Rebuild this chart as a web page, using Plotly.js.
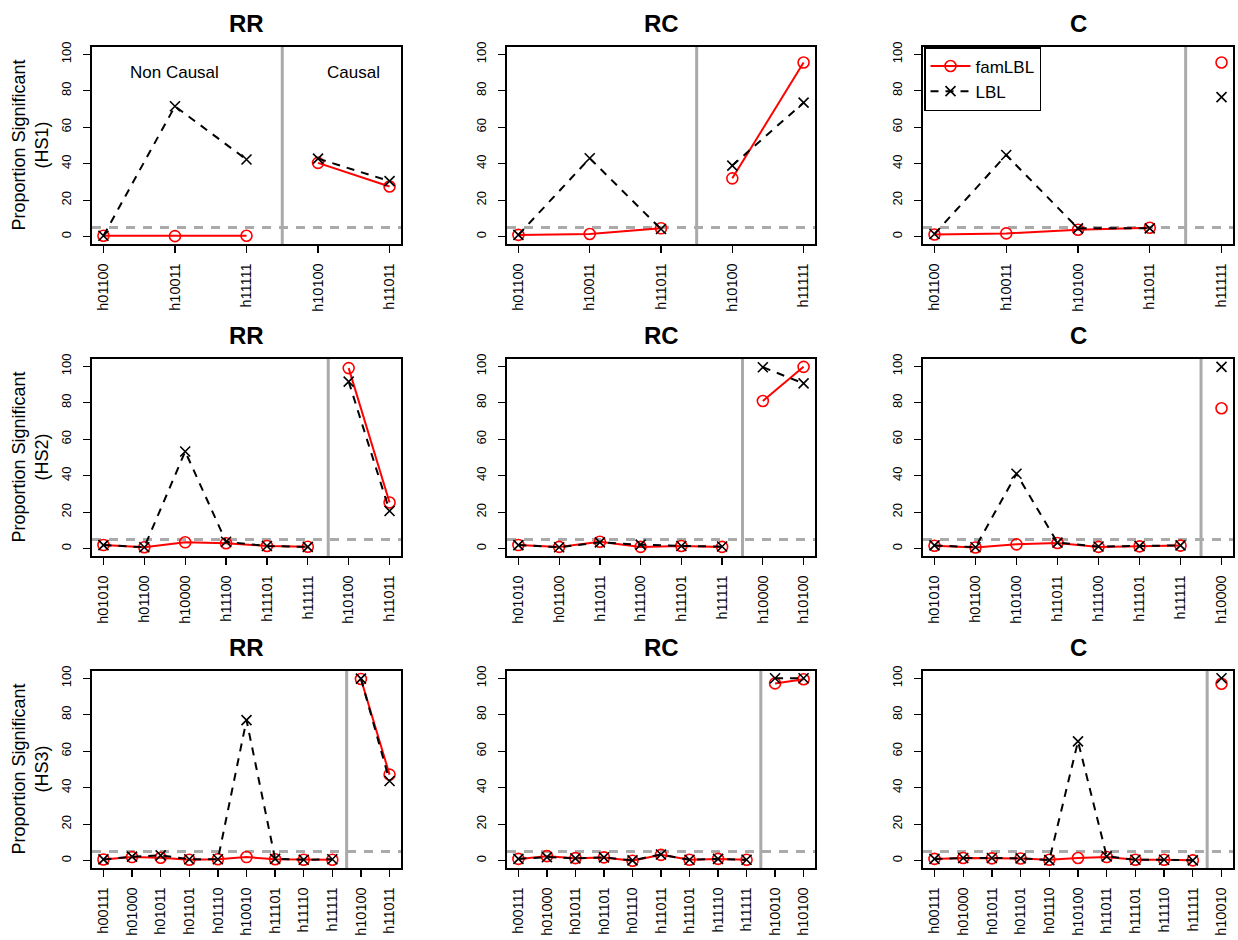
<!DOCTYPE html>
<html>
<head>
<meta charset="utf-8">
<script src="https://cdn.plot.ly/plotly-3.0.1.min.js"></script>
<style>html,body{margin:0;padding:0;background:#fff;}#plot{width:1238px;height:940px;}</style>
</head>
<body>
<div id="plot"></div>
<script>
// ---------- data ----------
const seriesNames = ['famLBL', 'LBL'];
const panelTitles = ['RR', 'RC', 'C'];
const rowLabels = ['HS1', 'HS2', 'HS3'];

const cats_RR_HS1 = ['h01100','h10011','h11111','h10100','h11011'];
const fam_RR_HS1  = [0.5, 0.3, 0.5, 40.5, 27.5];
const lbl_RR_HS1  = [0.5, 71.5, 42.3, 42.8, 30.5];
const nonCausal_RR_HS1 = 3;

const cats_RC_HS1 = ['h01100','h10011','h11011','h10100','h11111'];
const fam_RC_HS1  = [1.0, 1.5, 4.6, 32.0, 95.5];
const lbl_RC_HS1  = [1.0, 43.0, 4.2, 39.0, 73.5];
const nonCausal_RC_HS1 = 3;

const cats_C_HS1 = ['h01100','h10011','h10100','h11011','h11111'];
const fam_C_HS1  = [1.2, 1.8, 3.8, 4.9, 95.5];
const lbl_C_HS1  = [1.5, 44.8, 4.6, 4.6, 76.5];
const nonCausal_C_HS1 = 4;

const cats_RR_HS2 = ['h01010','h01100','h10000','h11100','h11101','h11111','h10100','h11011'];
const fam_RR_HS2  = [2.0, 0.8, 3.5, 3.0, 1.5, 1.1, 99.0, 25.3];
const lbl_RR_HS2  = [2.0, 0.8, 53.3, 3.8, 1.5, 1.0, 91.6, 20.7];
const nonCausal_RR_HS2 = 6;

const cats_RC_HS2 = ['h01010','h01100','h11011','h11100','h11101','h11111','h10000','h10100'];
const fam_RC_HS2  = [2.0, 1.0, 3.8, 1.0, 1.5, 1.0, 81.0, 99.7];
const lbl_RC_HS2  = [2.0, 0.8, 3.5, 2.2, 1.5, 1.2, 99.5, 90.6];
const nonCausal_RC_HS2 = 6;

const cats_C_HS2 = ['h01010','h01100','h10100','h11011','h11100','h11101','h11111','h10000'];
const fam_C_HS2  = [1.6, 0.7, 2.4, 3.1, 1.0, 1.3, 1.7, 77.0];
const lbl_C_HS2  = [1.8, 0.8, 41.1, 3.3, 1.2, 1.4, 1.8, 99.7];
const nonCausal_C_HS2 = 7;

const cats_RR_HS3 = ['h00111','h01000','h01011','h01101','h01110','h10010','h11101','h11110','h11111','h10100','h11011'];
const fam_RR_HS3  = [0.7, 2.0, 1.6, 0.5, 0.8, 2.0, 0.8, 0.5, 0.5, 99.6, 47.2];
const lbl_RR_HS3  = [0.7, 2.2, 2.9, 0.8, 0.8, 77.1, 1.0, 0.5, 0.8, 99.8, 43.7];
const nonCausal_RR_HS3 = 9;

const cats_RC_HS3 = ['h00111','h01000','h01011','h01101','h01110','h11011','h11101','h11110','h11111','h10010','h10100'];
const fam_RC_HS3  = [1.0, 2.5, 1.4, 1.8, 0.0, 3.2, 0.5, 1.0, 0.5, 97.2, 99.5];
const lbl_RC_HS3  = [1.0, 2.0, 1.3, 1.8, 0.2, 3.4, 0.5, 1.0, 0.5, 100.0, 100.0];
const nonCausal_RC_HS3 = 9;

const cats_C_HS3 = ['h00111','h01000','h01011','h01101','h01110','h10100','h11011','h11101','h11110','h11111','h10010'];
const fam_C_HS3  = [1.0, 1.5, 1.3, 1.2, 0.5, 1.5, 2.0, 0.5, 0.5, 0.2, 97.0];
const lbl_C_HS3  = [1.0, 1.5, 1.5, 1.3, 0.3, 65.4, 2.4, 0.5, 0.5, 0.2, 100.0];
const nonCausal_C_HS3 = 10;

const yTicks = [0, 20, 40, 60, 80, 100];
const threshold = 5;

// ---------- build ----------
const panels = [
  [cats_RR_HS1, fam_RR_HS1, lbl_RR_HS1, nonCausal_RR_HS1],
  [cats_RC_HS1, fam_RC_HS1, lbl_RC_HS1, nonCausal_RC_HS1],
  [cats_C_HS1,  fam_C_HS1,  lbl_C_HS1,  nonCausal_C_HS1],
  [cats_RR_HS2, fam_RR_HS2, lbl_RR_HS2, nonCausal_RR_HS2],
  [cats_RC_HS2, fam_RC_HS2, lbl_RC_HS2, nonCausal_RC_HS2],
  [cats_C_HS2,  fam_C_HS2,  lbl_C_HS2,  nonCausal_C_HS2],
  [cats_RR_HS3, fam_RR_HS3, lbl_RR_HS3, nonCausal_RR_HS3],
  [cats_RC_HS3, fam_RC_HS3, lbl_RC_HS3, nonCausal_RC_HS3],
  [cats_C_HS3,  fam_C_HS3,  lbl_C_HS3,  nonCausal_C_HS3]
];

const W = 1238, H = 940;
const colPx = [[92, 401], [507, 815], [923, 1233]];
const rowPx = [[47, 244], [359, 556], [671, 868]];
const FONT = 'Liberation Sans, Arial, Helvetica, sans-serif';

const traces = [];
const layout = {
  width: W, height: H,
  margin: {l: 0, r: 0, t: 0, b: 0},
  paper_bgcolor: '#fff', plot_bgcolor: '#fff',
  font: {family: FONT, color: '#000'},
  showlegend: true,
  legend: {
    x: 924 / W, y: 1 - 47 / H, xanchor: 'left', yanchor: 'top',
    bgcolor: '#fff', bordercolor: '#000', borderwidth: 1.5,
    font: {family: FONT, size: 17, color: '#000'},
    itemwidth: 40, tracegroupgap: 0
  },
  shapes: [], annotations: []
};

const famStyle = {
  line: {color: '#ff0000', width: 2},
  marker: {symbol: 'circle-open', size: 11, color: '#ff0000', line: {width: 1.6, color: '#ff0000'}}
};
const lblStyle = {
  line: {color: '#000', width: 2, dash: '8px,7px'},
  marker: {symbol: 'x-thin-open', size: 10, color: '#000', line: {width: 1.6, color: '#000'}}
};

panels.forEach((p, k) => {
  const [cats, fam, lbl, nNC] = p;
  const row = Math.floor(k / 3), col = k % 3;
  const sfx = k === 0 ? '' : String(k + 1);
  const xa = 'x' + sfx, ya = 'y' + sfx;
  const n = cats.length;
  const xs = cats.map((c, i) => i + 1);
  const pad = 0.04 * (n - 1);

  const groups = [[0, nNC], [nNC, n]];
  [[fam, famStyle, seriesNames[0]], [lbl, lblStyle, seriesNames[1]]].forEach(([vals, st, name]) => {
    groups.forEach(([a, b], gi) => {
      traces.push({
        type: 'scatter', mode: 'lines+markers',
        x: xs.slice(a, b), y: vals.slice(a, b),
        xaxis: xa, yaxis: ya,
        name: name, legendgroup: name,
        showlegend: (k === 2 && gi === 0),
        line: st.line, marker: st.marker,
        hoverinfo: 'x+y'
      });
    });
  });

  const xd = colPx[col], yd = rowPx[row];
  layout['xaxis' + sfx] = {
    domain: [xd[0] / W, xd[1] / W],
    anchor: ya,
    range: [1 - pad, n + pad],
    tickmode: 'array', tickvals: xs, ticktext: cats,
    tickangle: -90,
    ticks: 'outside', ticklen: 7, tickwidth: 1.3, tickcolor: '#000',
    ticklabelstandoff: 5,
    tickfont: {family: FONT, size: 14.5, color: '#000'},
    showline: true, mirror: true, linecolor: '#000', linewidth: 1.6,
    showgrid: false, zeroline: false, fixedrange: true
  };
  layout['yaxis' + sfx] = {
    domain: [1 - yd[1] / H, 1 - yd[0] / H],
    anchor: xa,
    range: [-4, 104],
    tickmode: 'array', tickvals: yTicks, ticktext: yTicks.map(String),
    tickangle: -90,
    ticks: 'outside', ticklen: 7, tickwidth: 1.3, tickcolor: '#000',
    ticklabelstandoff: 7,
    tickfont: {family: FONT, size: 13, color: '#000'},
    showline: true, mirror: true, linecolor: '#000', linewidth: 1.6,
    showgrid: false, zeroline: false, fixedrange: true
  };

  // separator between non causal and causal
  layout.shapes.push({
    type: 'line', xref: xa, yref: ya + ' domain',
    x0: nNC + 0.5, x1: nNC + 0.5, y0: 0, y1: 1,
    line: {color: '#aaaaaa', width: 3}, layer: 'below'
  });
  // 5% threshold
  layout.shapes.push({
    type: 'line', xref: xa + ' domain', yref: ya,
    x0: 0, x1: 1, y0: threshold, y1: threshold,
    line: {color: '#aaaaaa', width: 3, dash: '9px,8px'}, layer: 'below'
  });

  // panel title
  layout.annotations.push({
    text: '<b>' + panelTitles[col] + '</b>',
    xref: 'paper', yref: 'paper',
    x: (xd[0] + xd[1]) / 2 / W, y: 1 - (yd[0] - 24) / H,
    xanchor: 'center', yanchor: 'middle', showarrow: false,
    font: {family: FONT, size: 24, color: '#000'}
  });

  if (col === 0) {
    layout.annotations.push({
      text: 'Proportion Significant<br>(' + rowLabels[row] + ')',
      xref: 'paper', yref: 'paper',
      x: 30 / W, y: 1 - ((yd[0] + yd[1]) / 2) / H,
      xanchor: 'center', yanchor: 'middle', showarrow: false,
      textangle: -90,
      font: {family: FONT, size: 18, color: '#000'}
    });
  }

  if (k === 0) {
    layout.annotations.push({
      text: 'Non Causal', xref: xa, yref: ya, x: 2, y: 90,
      showarrow: false, xanchor: 'center', yanchor: 'middle',
      font: {family: FONT, size: 17, color: '#000'}
    });
    layout.annotations.push({
      text: 'Causal', xref: xa, yref: ya, x: nNC + 1.5, y: 90,
      showarrow: false, xanchor: 'center', yanchor: 'middle',
      font: {family: FONT, size: 17, color: '#000'}
    });
  }
});

Plotly.newPlot('plot', traces, layout, {staticPlot: true, displayModeBar: false});
</script>
</body>
</html>
